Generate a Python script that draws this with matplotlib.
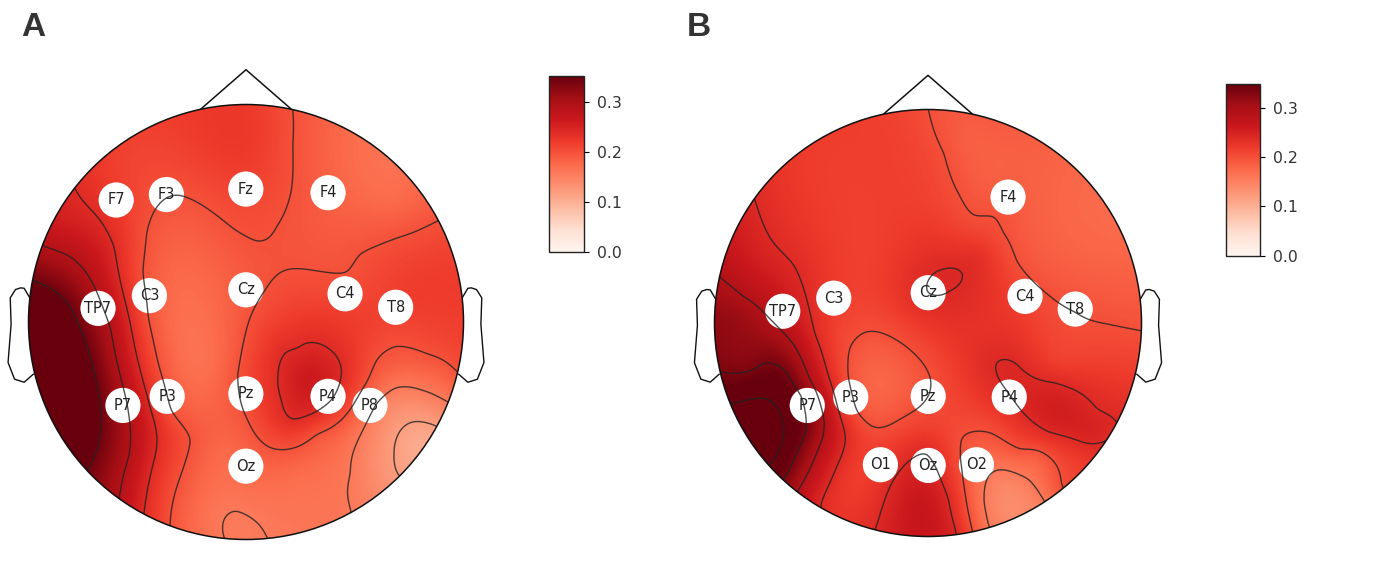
import numpy as np
import matplotlib
matplotlib.use("Agg")
import matplotlib.pyplot as plt
from matplotlib.patches import Circle
from matplotlib.cm import ScalarMappable
from matplotlib.colors import Normalize

W, H = 1382, 570
plt.rcParams['font.family'] = ['DejaVu Sans']

# Sensors (crop coordinates of each panel)
SENSORS_A = {'F7': (294, 550), 'F3': (421, 535), 'Fz': (622, 520), 'F4': (830, 530),
             'TP7': (248, 848), 'C3': (378, 813), 'Cz': (622, 797), 'C4': (873, 808),
             'T8': (1001, 845), 'P7': (311, 1115), 'P3': (423, 1090), 'Pz': (622, 1083),
             'P4': (830, 1090), 'P8': (936, 1115), 'Oz': (622, 1282)}
SENSORS_B = {'F4': (830, 542), 'C3': (389, 820), 'Cz': (628, 805), 'C4': (873, 815),
             'TP7': (260, 856), 'T8': (1000, 850), 'P7': (322, 1115), 'P3': (432, 1092),
             'Pz': (628, 1090), 'P4': (833, 1092), 'O1': (507, 1278), 'Oz': (628, 1280),
             'O2': (750, 1278)}

# Estimated map values: value -> sampled locations
ISO_A = {
    0.20: [(1158,1030),(1080,975),(1000,950),(950,990),(930,1050),(890,1120),(800,1190),(680,1230),
           (630,1160),(600,1030),(630,880),(670,800),(720,745),(800,745),(880,755),(910,695),(1000,655),(1110,605),
           (740,295),(740,400),(738,520),(700,620),(645,665),(590,630),(520,570),(450,535),(405,560),(370,640),
           (360,750),(375,880),(400,1000),(430,1130),(485,1205),(460,1300),(430,1440)],
    0.24: [(190,515),(250,600),(290,680),(310,800),(340,950),(375,1100),(392,1160),(385,1280),(365,1405),
           (770,940),(830,960),(865,1020),(840,1100),(790,1140),(740,1160),(715,1100),(705,1030),(720,965)],
    0.29: [(105,675),(170,700),(240,790),(280,900),(320,1100),(328,1250),(305,1360)],
    0.345: [(80,770),(150,810),(200,900),(240,1030),(255,1150),(220,1290)],
    0.16: [(1130,1105),(1070,1075),(1000,1065),(950,1110),(910,1200),(890,1300),(890,1400),
           (565,1475),(565,1430),(595,1400),(630,1420),(670,1478)],
    0.12: [(1105,1170),(1050,1158),(1010,1190),(998,1250),(1005,1305)],
}
SPOT_A = [(100,1000,.42),(170,1100,.40),(120,900,.40),(180,1230,.39),(780,1040,.265),(1060,1240,.105),
          (500,800,.175),(530,1000,.17),(560,1250,.175),(750,1300,.175),(620,1350,.17),(900,500,.175),
          (1000,550,.175),(850,350,.18),(620,350,.225),(620,450,.22),(300,450,.215),(1050,800,.22),
          (750,950,.235),(950,880,.215),(1150,900,.215),(1000,1000,.19),(1120,1030,.185),(750,1400,.165),
          (1000,1380,.14),(950,1350,.14),(390,1380,.225),(340,1330,.265),(250,1300,.33),(150,600,.255)]

ISO_B = {
    0.20: [(628,305),(670,420),(710,540),(740,600),(800,585),(815,640),(850,720),(920,800),(1000,855),(1080,890),(1167,910),
           (450,930),(540,930),(590,970),(635,1040),(620,1100),(560,1150),(490,1175),(445,1130),(425,1040),(428,960),
           (740,1465),(720,1350),(708,1260),(708,1210),(740,1190),(790,1190),(860,1240),(960,1345)],
    0.24: [(190,550),(290,730),(340,920),(400,1130),(420,1200),(355,1385),
           (795,1000),(850,995),(950,1050),(1050,1130),(1105,1155),(1075,1210),(1020,1220),(930,1190),(860,1125),(810,1050),
           (690,732),(705,745),(680,790),(620,810),(625,780),(650,745),
           (495,1455),(530,1340),(590,1260),(625,1240),(650,1290),(680,1370),(703,1470)],
    0.29: [(105,765),(160,820),(230,880),(290,950),(325,1040),(365,1150),(350,1230),(300,1345)],
    0.335: [(110,1025),(210,995),(270,1020),(310,1090),(320,1190),(270,1310)],
    0.37: [(140,1110),(200,1095),(250,1140),(260,1190),(225,1275)],
    0.16: [(780,1450),(768,1380),(780,1310),(810,1290),(860,1310),(925,1375)],
}
SPOT_B = [(560,350,.212),(500,340,.215),(600,420,.21),(640,520,.21),(680,600,.212),(720,680,.225),
          (720,380,.185),(780,500,.185),(900,400,.185),(800,330,.19),
          (400,500,.215),(300,450,.22),(950,600,.18),(1050,700,.18),(750,700,.235),(760,900,.23),
          (530,1040,.18),(950,1000,.215),(1100,1000,.215),(980,1130,.255),(1040,1180,.25),(600,1380,.265),
          (830,1370,.14),(830,1340,.14),(450,1300,.215),(620,1180,.215),(200,1200,.41),(180,1000,.325),
          (150,850,.31),(200,700,.25),(120,950,.32),(900,1260,.18),(500,700,.215),(1000,1250,.22),(1020,1300,.215)]

TICKS = [0.0, 0.1, 0.2, 0.3]
PANELS = [
    dict(label='A', lab_x=21, off=0, cx=246, cy=322, R=217.5, sensors=SENSORS_A, iso=ISO_A, spot=SPOT_A,
         cbar=(548.6, 76, 584, 252), vmax=0.353),
    dict(label='B', lab_x=687, off=680, cx=928, cy=323, R=213.5, sensors=SENSORS_B, iso=ISO_B, spot=SPOT_B,
         cbar=(1225.5, 83.6, 1260, 255.6), vmax=0.35),
]
NOSE_X = [-0.21, 0, 0.21]
NOSE_Y = [0.977, 1.16, 0.977]
EAR_X = [.994, 1.02, 1.036, 1.06, 1.084, 1.08, 1.094, 1.064, 1.02, .978]
EAR_Y = [.111, .155, .157, .149, .111, -.011, -.186, -.263, -.277, -.24]


def tps(px, py, v, gx, gy, smooth=0.004):
    def kern(r2):
        out = np.zeros_like(r2)
        m = r2 > 0
        out[m] = 0.5 * r2[m] * np.log(r2[m])
        return out
    n = len(px)
    d2 = (px[:, None] - px[None, :])**2 + (py[:, None] - py[None, :])**2
    K = kern(d2) + smooth * np.eye(n)
    P = np.c_[np.ones(n), px, py]
    A = np.block([[K, P], [P.T, np.zeros((3, 3))]])
    sol = np.linalg.solve(A, np.r_[v, np.zeros(3)])
    g2 = (gx.ravel()[:, None] - px[None, :])**2 + (gy.ravel()[:, None] - py[None, :])**2
    z = kern(g2) @ sol[:n] + sol[n] + sol[n + 1] * gx.ravel() + sol[n + 2] * gy.ravel()
    return z.reshape(gx.shape)


fig = plt.figure(figsize=(W / 100, H / 100), dpi=100)

for p in PANELS:
    R, cx, cy, off = p['R'], p['cx'], p['cy'], p['off']
    conv = lambda zx, zy: ((zx / 2.53 + off - cx) / R, (cy - zy / 2.75) / R)
    hx, hy = 1.125, 1.2
    ax = fig.add_axes([(cx - hx * R) / W, 1 - (cy + hy * R) / H, 2 * hx * R / W, 2 * hy * R / H])
    ax.axis('off')

    pts = [(*conv(a, b), lev) for lev, lst in p['iso'].items() for a, b in lst]
    pts += [(*conv(a, b), val) for a, b, val in p['spot']]
    pts = np.array(pts)
    gx, gy = np.meshgrid(np.linspace(-1.03, 1.03, 320), np.linspace(-1.03, 1.03, 320))
    z = tps(pts[:, 0], pts[:, 1], pts[:, 2], gx, gy)

    norm = Normalize(0, p['vmax'])
    clip = Circle((0, 0), 1.0, transform=ax.transData)
    im = ax.imshow(z, extent=(-1.03, 1.03, -1.03, 1.03), origin='lower', cmap='Reds', norm=norm,
                   interpolation='bilinear', zorder=2, aspect='auto')
    im.set_clip_path(clip)
    ax.set_xlim(-hx, hx)
    ax.set_ylim(-hy, hy)

    for name, (a, b) in p['sensors'].items():
        x, y = conv(a, b)
        ax.add_patch(Circle((x, y), 17.6 / R, fc='white', ec='none', zorder=3))
        ax.text(x, y, name, ha='center', va='center', fontsize=10.5, color='#222222', zorder=6)

    cs = ax.contour(gx, gy, z, levels=sorted(p['iso'].keys()), colors='#222222', linewidths=1.0,
                    alpha=0.8, zorder=4)
    cs.set_clip_path(clip)

    ax.add_patch(Circle((0, 0), 1.0, fc='none', ec='#111111', lw=1.1, zorder=5))
    ax.plot(NOSE_X, NOSE_Y, color='#111111', lw=1.1, zorder=1)
    ax.plot(EAR_X, EAR_Y, color='#111111', lw=1.0, zorder=1)
    ax.plot(-np.array(EAR_X), EAR_Y, color='#111111', lw=1.0, zorder=1)

    x0, y0, x1, y1 = p['cbar']
    cax = fig.add_axes([x0 / W, 1 - y1 / H, (x1 - x0) / W, (y1 - y0) / H])
    cb = fig.colorbar(ScalarMappable(norm=norm, cmap='Reds'), cax=cax)
    cb.set_ticks(TICKS)
    cb.ax.tick_params(labelsize=11.3, labelcolor='#333333', length=3.5, width=0.8, pad=5.5)
    cb.outline.set_linewidth(1.0)
    cb.outline.set_edgecolor('#222222')

    fig.text(p['lab_x'] / W, 1 - 36 / H, p['label'], fontsize=24, fontweight='bold',
             family='Liberation Sans', color='#333333', ha='left', va='baseline')

fig.savefig('out.png', dpi=100)
